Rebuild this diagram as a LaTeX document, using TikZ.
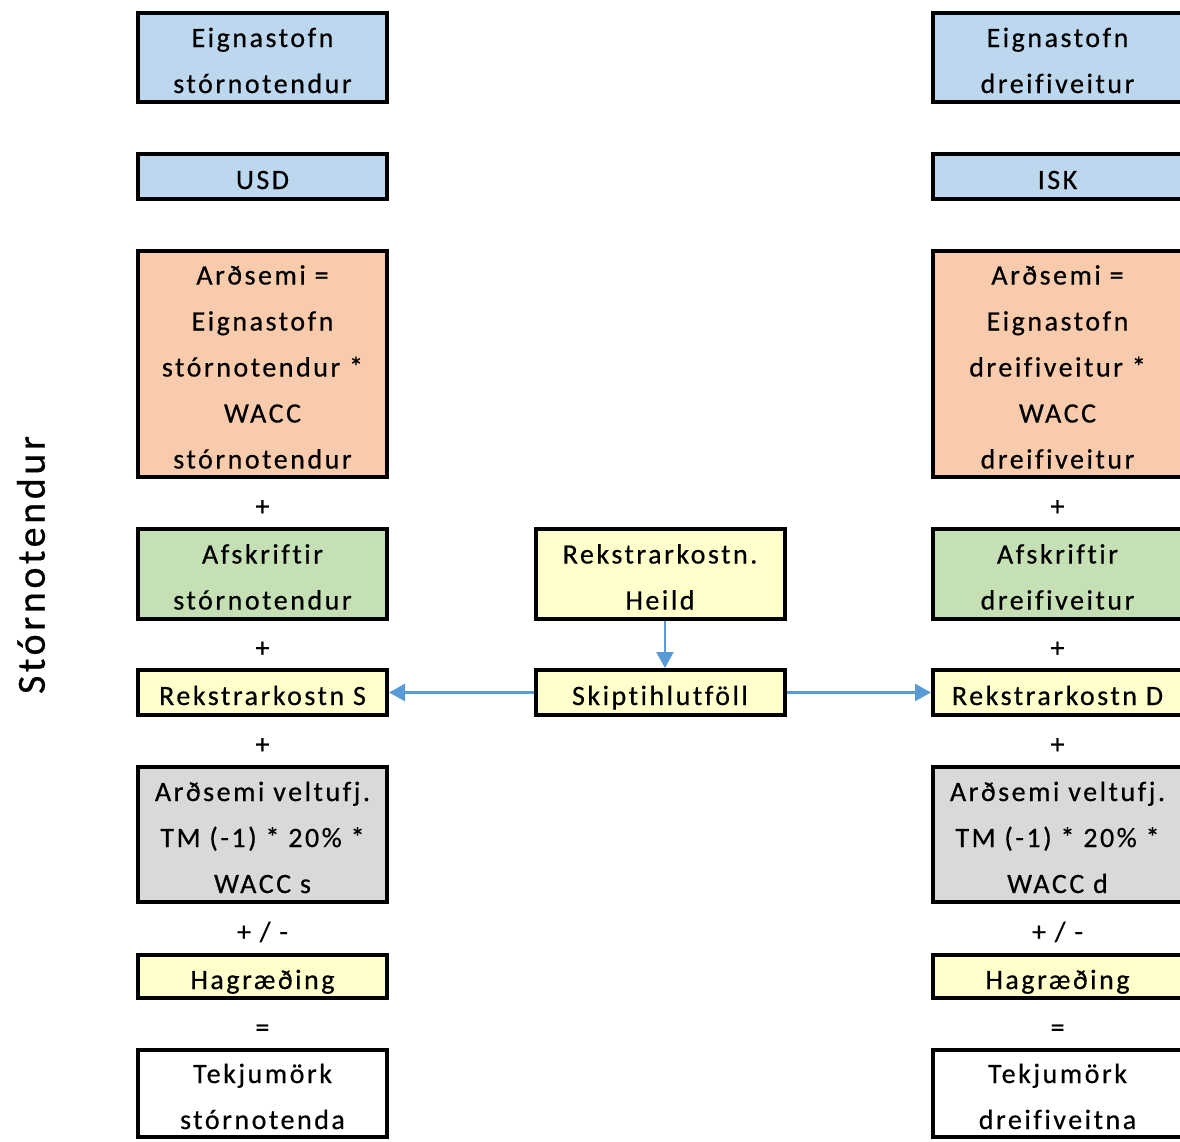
\documentclass[tikz,border=0pt]{standalone}
\usepackage{fontspec}
\setmainfont{Carlito}[LetterSpace=9, Ligatures=NoCommon, FakeBold=0.5]
\usetikzlibrary{arrows.meta}

\definecolor{azulc}{HTML}{BDD7EE}
\definecolor{naranjac}{HTML}{F8CBAD}
\definecolor{verdec}{HTML}{C5E0B4}
\definecolor{amarilloc}{HTML}{FFFFCC}
\definecolor{grisc}{HTML}{D9D9D9}
\definecolor{flechac}{HTML}{5B9BD5}

% puntales: primera y ultima linea
\newcommand{\ini}{\rule{0pt}{32pt}}
\newcommand{\fin}{\rule[-7pt]{0pt}{0pt}}

\tikzset{
  caja/.style={draw=black, line width=4pt, minimum width=249pt, inner sep=0pt,
    align=center, font=\fontsize{28}{46}\selectfont},
  azul/.style={caja, fill=azulc},
  naranja/.style={caja, fill=naranjac},
  verde/.style={caja, fill=verdec},
  amarillo/.style={caja, fill=amarilloc},
  gris/.style={caja, fill=grisc},
  blanca/.style={caja, fill=white},
  signo/.style={font=\fontsize{28}{46}\selectfont, inner sep=0pt},
  flecha/.style={draw=flechac, line width=2.5pt, -{Triangle[length=16pt,width=17pt]}}
}

\begin{document}
\begin{tikzpicture}[x=1pt, y=-1pt]
    \useasboundingbox (0,0) rectangle (1180,1141);

    % Titulo lateral
    \node[rotate=90, font=\fontsize{40}{48}\selectfont] (titulo) at (31,565) {Stórnotendur};

    % Columna izquierda: stórnotendur
    \node[azul, minimum height=89pt] (eignS) at (262.5,57.5) {\ini Eignastofn\\stórnotendur\fin};
    \node[azul, minimum height=45pt] (usd) at (262.5,176.5) {\ini USD\fin};
    \node[naranja, minimum height=226pt] (ardS) at (262.5,364) {\ini Arðsemi =\\Eignastofn\\stórnotendur *\\WACC\\stórnotendur\fin};
    \node[verde, minimum height=90pt] (afskS) at (262.5,574) {\ini Afskriftir\\stórnotendur\fin};
    \node[amarillo, minimum height=45pt] (rekS) at (262.5,692.5) {\ini Rekstrarkostn S\fin};
    \node[gris, minimum height=135pt] (veltS) at (262.5,834.5) {\ini Arðsemi veltufj.\\TM (-1) * 20\% *\\WACC s\fin};
    \node[amarillo, minimum height=43pt] (hagS) at (262.5,976.5) {\ini Hagræðing\fin};
    \node[blanca, minimum height=87pt] (tekS) at (262.5,1093.5) {\ini Tekjumörk\\stórnotenda\fin};

    % Columna derecha: dreifiveitur
    \node[azul, minimum height=89pt] (eignD) at (1057.5,57.5) {\ini Eignastofn\\dreifiveitur\fin};
    \node[azul, minimum height=45pt] (isk) at (1057.5,176.5) {\ini ISK\fin};
    \node[naranja, minimum height=226pt] (ardD) at (1057.5,364) {\ini Arðsemi =\\Eignastofn\\dreifiveitur *\\WACC\\dreifiveitur\fin};
    \node[verde, minimum height=90pt] (afskD) at (1057.5,574) {\ini Afskriftir\\dreifiveitur\fin};
    \node[amarillo, minimum height=45pt] (rekD) at (1057.5,692.5) {\ini Rekstrarkostn D\fin};
    \node[gris, minimum height=135pt] (veltD) at (1057.5,834.5) {\ini Arðsemi veltufj.\\TM (-1) * 20\% *\\WACC d\fin};
    \node[amarillo, minimum height=43pt] (hagD) at (1057.5,976.5) {\ini Hagræðing\fin};
    \node[blanca, minimum height=87pt] (tekD) at (1057.5,1093.5) {\ini Tekjumörk\\dreifiveitna\fin};

    % Columna central
    \node[amarillo, minimum height=90pt] (heild) at (660,574) {\ini Rekstrarkostn.\\Heild\fin};
    \node[amarillo, minimum height=45pt] (skipti) at (660,692.5) {\ini Skiptihlutföll\fin};

    % Signos entre cajas
    \foreach \c in {S,D}{
      \path (ard\c.south) -- (afsk\c.north) node[midway, signo] {\ini+\fin};
      \path (afsk\c.south) -- (rek\c.north) node[midway, signo] {\ini+\fin};
      \path (rek\c.south) -- (velt\c.north) node[midway, signo] {\ini+\fin};
      \path (velt\c.south) -- (hag\c.north) node[midway, signo] {\ini+ / -\fin};
      \path (hag\c.south) -- (tek\c.north) node[midway, signo] {\ini=\fin};
    }

    % Flechas
    \draw[flecha] ([xshift=5pt]heild.south) -- ([xshift=5pt]skipti.north);
    \draw[flecha] (skipti.west) -- (rekS.east);
    \draw[flecha] (skipti.east) -- (rekD.west);
\end{tikzpicture}
\end{document}
